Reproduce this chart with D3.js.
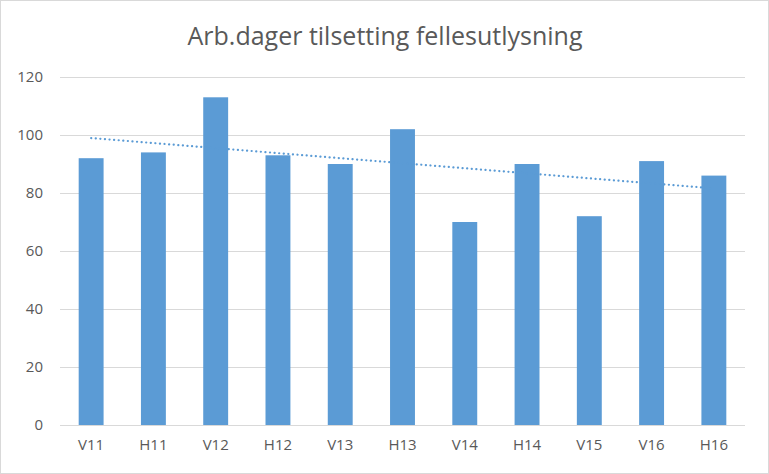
<!DOCTYPE html>
<html><head><meta charset="utf-8">
<script src="https://cdn.jsdelivr.net/npm/d3@7"></script>
<style>body{margin:0;background:#fff}svg{display:block}</style>
</head><body>
<svg id="chart" width="769" height="474"></svg>
<script>
const categories = ["V11","H11","V12","H12","V13","H13","V14","H14","V15","V16","H16"];
const values = [92, 94, 113, 93, 90, 102, 70, 90, 72, 91, 86];
const yTicks = [0, 20, 40, 60, 80, 100, 120];
const title = "Arb.dager tilsetting fellesutlysning";

const svg = d3.select("#chart");
const W = 769, H = 474;
const font = "'Open Sans', 'Liberation Sans', sans-serif";
const m = {left: 60, right: 24, top: 77, bottom: 49};

svg.append("rect").attr("x",0.5).attr("y",0.5).attr("width",W-1).attr("height",H-1)
  .attr("fill","#fff").attr("stroke","#d9d9d9");

const x = d3.scaleBand().domain(categories).range([m.left, W - m.right]).paddingInner(0.6).paddingOuter(0.3);
const y = d3.scaleLinear().domain([0,120]).range([H - m.bottom, m.top]);

svg.append("text").attr("x", W/2 + 0.5).attr("y", 45).attr("text-anchor","middle")
  .attr("font-family", font).attr("font-size", 25).attr("fill","#595959").text(title);

// grid
const ga = svg.append("g").attr("transform",`translate(${m.left},0)`)
  .call(d3.axisLeft(y).tickValues(yTicks).tickSize(-(W - m.left - m.right)).tickFormat(""));
ga.select(".domain").remove();
ga.selectAll("line").attr("stroke","#d9d9d9").attr("stroke-width",1);

// y labels
svg.append("g").attr("transform",`translate(${m.left - 17},0)`)
  .call(d3.axisLeft(y).tickValues(yTicks).tickSize(0).tickPadding(0))
  .call(g => g.select(".domain").remove())
  .selectAll("text").attr("font-family", font).attr("font-size", 15).attr("fill","#595959");

// bars
svg.append("g").selectAll("rect").data(values).join("rect")
  .attr("x",(d,i)=>x(categories[i])).attr("width",x.bandwidth())
  .attr("y",d=>y(d)).attr("height",d=>y(0)-y(d)).attr("fill","#5b9bd5");

// x labels
svg.append("g").attr("transform",`translate(0,${y(0)+14})`)
  .call(d3.axisBottom(x).tickSize(0).tickPadding(0))
  .call(g => g.select(".domain").remove())
  .selectAll("text").attr("font-family", font).attr("font-size", 15).attr("fill","#595959");

// linear trendline (least squares over category index)
const n = values.length;
const xs = d3.range(1, n+1);
const mx = d3.mean(xs), my = d3.mean(values);
const slope = d3.sum(xs.map((xi,i)=>(xi-mx)*(values[i]-my))) / d3.sum(xs.map(xi=>(xi-mx)**2));
const icpt = my - slope*mx;
const trend = [1, n].map(k => [x(categories[k-1]) + x.bandwidth()/2, y(icpt + slope*k)]);
svg.append("path").attr("d", d3.line()(trend)).attr("fill","none")
  .attr("stroke","#5b9bd5").attr("stroke-width",2.2).attr("stroke-dasharray","0.1 4.5")
  .attr("stroke-linecap","round");
</script>
</body></html>
